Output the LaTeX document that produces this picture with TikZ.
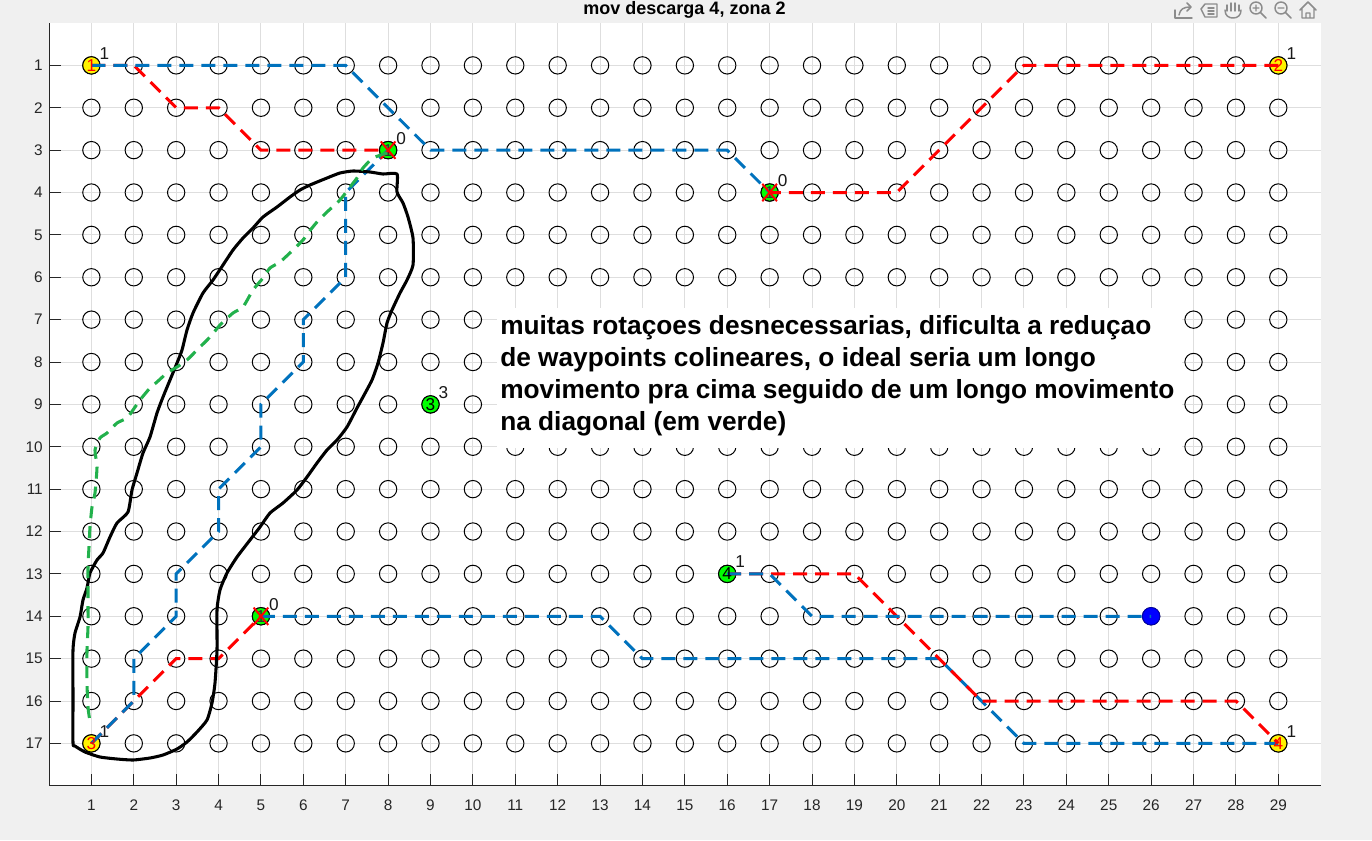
\documentclass[tikz,border=0pt]{standalone}
\usepackage{fontspec}
\setmainfont{Liberation Sans}
\begin{document}
\begin{tikzpicture}[x=0.75pt,y=-0.75pt,
  gridc/.style={draw=black!13,line width=0.75pt},
  axisc/.style={draw=black!85,line width=0.75pt},
  ticklab/.style={text=black!85,font=\fontsize{11.5}{13}\selectfont,inner sep=0pt},
  emptym/.style={draw=black,line width=0.75pt},
  mk/.style={circle,draw=black,line width=0.75pt,minimum size=13pt,inner sep=0pt},
  ymark/.style={mk,fill=yellow},
  gmark/.style={mk,fill=green},
  bmark/.style={mk,fill=blue,draw=blue!70!black},
  bpath/.style={draw={rgb,255:red,0;green,114;blue,189},line width=2.25pt,dash pattern=on 10.5pt off 6pt},
  rpath/.style={draw=red,line width=2.25pt,dash pattern=on 10.5pt off 6pt},
  ptlab/.style={font=\fontsize{12.9}{14}\selectfont,inner sep=0pt,text=black!90},
  innum/.style={font=\fontsize{12.9}{14}\selectfont,inner sep=0pt},
  xmk/.style={draw=red,line width=1.5pt},
  handblack/.style={draw=black,line width=2.3pt,line join=round},
  handgreen/.style={draw={rgb,255:red,34;green,177;blue,76},line width=2.3pt,dash pattern=on 9pt off 6pt,line join=round},
  note/.style={font=\fontsize{19.7}{24}\selectfont\bfseries,inner sep=0pt,anchor=base west},
  icon/.style={draw=black!45,line width=1.1pt,line join=round,line cap=round}
]
\useasboundingbox (0,0) rectangle (1372,840);
\fill[black!6] (0,0) rectangle (1372,840);
\fill[white] (49,23) rectangle (1320.7,785);
\node[font=\fontsize{13.5}{15}\selectfont\bfseries,inner sep=0pt] (title) at (684.5,10) {mov descarga 4, zona 2};
% toolbar icons
\draw[icon] (1175,10) -- (1175,18) -- (1192,18);
\draw[icon] (1179,15) .. controls (1180,9) and (1184,7) .. (1190,7);
\draw[icon] (1187,3) -- (1191,7) -- (1187,11);
\draw[icon] (1201,9) -- (1205,4) -- (1217,4) -- (1217,17) -- (1205,17) -- cycle;
\draw[icon] (1208,8) -- (1214,8) (1208,11) -- (1214,11) (1208,14) -- (1214,14);
\draw[icon] (1227,11) -- (1227,5) (1231,11) -- (1231,3) (1235,11) -- (1235,3) (1239,11) -- (1239,5);
\draw[icon] (1225,10) .. controls (1225,16) and (1229,18) .. (1233,18) .. controls (1238,18) and (1241,15) .. (1241,10);
\draw[icon] (1256,8) circle[radius=6];
\draw[icon] (1260.5,12.5) -- (1266,18) (1253,8) -- (1259,8) (1256,5) -- (1256,11);
\draw[icon] (1281,8) circle[radius=6];
\draw[icon] (1285.5,12.5) -- (1291,18) (1278,8) -- (1284,8);
\draw[icon] (1300,10) -- (1308,2) -- (1316,10) (1302,8) -- (1302,18) -- (1314,18) -- (1314,8) (1306,18) -- (1306,13) -- (1310,13) -- (1310,18);
\begin{scope}[shift={(49,23)}]
\begin{scope}[x=31.7925pt,y=-31.78125pt]
  % grid
  \foreach \i in {1,...,29} \draw[gridc] (\i,0) -- (\i,18);
  \foreach \j in {1,...,17} \draw[gridc] (0,\j) -- (30,\j);
  % axes
  \draw[axisc] (0,0) -- (0,18) -- (30,18);
  \foreach \i in {1,...,29} {
    \draw[axisc] (\i,18) -- ++(0,9pt);
    \node[ticklab] (xl\i) at ([yshift=-14.6pt]\i,18) {\i};
  }
  \foreach \j in {1,...,17} {
    \draw[axisc] (0,\j) -- ++(9pt,0);
    \node[ticklab,anchor=east] (yl\j) at ([xshift=-4.5pt]0,\j) {\j};
  }
  % empty markers
  \foreach \i in {1,...,29} \foreach \j in {1,...,17}
    \draw[emptym] (\i,\j) circle[radius=6.5pt];
  % coloured markers
  \node[ymark] (p1) at (1,1) {};
  \node[ymark] (p2) at (29,1) {};
  \node[ymark] (p3) at (1,17) {};
  \node[ymark] (p4) at (29,17) {};
  \node[gmark] (g1) at (8,3) {};
  \node[gmark] (g2) at (17,4) {};
  \node[gmark] (g3) at (5,14) {};
  \node[gmark] (g4) at (16,13) {};
  \node[gmark] (g5) at (9,9) {};
  \node[bmark] (b1) at (26,14) {};
  % paths
  \draw[rpath] (p1.center) -- (2,1) -- (3,2) -- (4,2) -- (5,3) -- (g1.center);
  \draw[bpath] (p1.center) -- (7,1) -- (9,3) -- (16,3) -- (g2.center);
  \draw[rpath] (p2.center) -- (23,1) -- (20,4) -- (g2.center);
  \draw[rpath] (p3.center) -- (2,16) -- (3,15) -- (4,15) -- (g3.center);
  \draw[bpath] (p3.center) -- (2,16) -- (2,15) -- (3,14) -- (3,13) -- (4,12) -- (4,11) -- (5,10) -- (5,9) -- (6,8) -- (6,7) -- (7,6) -- (7,4) -- (g1.center);
  \draw[bpath] (g3.center) -- (13,14) -- (14,15) -- (21,15) -- (23,17) -- (p4.center);
  \draw[rpath] (g4.center) -- (19,13) -- (22,16) -- (28,16) -- (p4.center);
  \draw[bpath] (g4.center) -- (17,13) -- (18,14) -- (b1.center);
  % numbers inside markers
  \node[innum,text=red] (n1) at (p1) {1};
  \node[innum,text=red] (n2) at (p2) {2};
  \node[innum,text=red] (n3) at (p3) {3};
  \node[innum,text=red] (n4) at (p4) {4};
  \node[innum,text=black] (n5) at (g5) {3};
  \node[innum,text=black] (n6) at (g4) {4};
  \node[innum,text=black!80] (n7) at (g1) {1};
  \node[innum,text=black!80] (n8) at (g2) {1};
  \node[innum,text=black!80] (n9) at (g3) {1};
  % red crosses
  \foreach \g in {g1,g2,g3} {
    \draw[xmk] ([shift={(-5.5pt,-6.5pt)}]\g.center) -- ([shift={(5.5pt,6.5pt)}]\g.center);
    \draw[xmk] ([shift={(-5.5pt,6.5pt)}]\g.center) -- ([shift={(5.5pt,-6.5pt)}]\g.center);
  }
  % point labels
  \node[ptlab] (l1) at ([shift={(9.75pt,9pt)}]p1.center) {1};
  \node[ptlab] (l2) at ([shift={(9.75pt,9pt)}]p2.center) {1};
  \node[ptlab] (l3) at ([shift={(9.75pt,9pt)}]p3.center) {1};
  \node[ptlab] (l4) at ([shift={(9.75pt,9pt)}]p4.center) {1};
  \node[ptlab] (l5) at ([shift={(9.75pt,9pt)}]g1.center) {0};
  \node[ptlab] (l6) at ([shift={(9.75pt,9pt)}]g2.center) {0};
  \node[ptlab] (l7) at ([shift={(9.75pt,9pt)}]g3.center) {0};
  \node[ptlab] (l8) at ([shift={(9.75pt,9pt)}]g5.center) {3};
  \node[ptlab] (l9) at ([shift={(9.75pt,9pt)}]g4.center) {1};
\end{scope}
\end{scope}
% hand drawn outline
\draw[handblack] plot[smooth cycle,tension=0.35] coordinates {
 (397,174) (397,192) (403,203) (408,217) (413,238) (413,265) (407,280) (400,293)
 (392,310) (387,323) (383,343) (378,363) (372,380) (363,397) (357,408) (347,427)
 (337,440) (327,450) (317,463) (307,477) (297,490) (283,503) (270,513) (260,527)
 (250,540) (237,557) (227,573) (220,590) (217,610) (217,650) (215,683) (212,703)
 (207,720) (197,732) (187,742) (177,749) (163,755) (150,758) (133,760) (117,759)
 (100,757) (85,752) (75,746) (73,743) (73,700) (73,650) (75,633) (80,617)
 (83,600) (87,588) (90,573) (97,560) (103,553) (110,537) (117,523) (128,512)
 (132,490) (137,473) (143,453) (150,437) (157,413) (163,397) (170,380) (177,363)
 (182,350) (187,330) (193,313) (203,293) (213,280) (223,265) (233,250) (243,238)
 (253,228) (263,217) (277,207) (290,197) (300,190) (310,185) (327,178) (340,173)
 (353,171) (370,172) (383,174)};
% hand drawn green dashed curve
\draw[handgreen] plot[smooth,tension=0.35] coordinates {
 (387,153) (373,158) (363,168) (357,178) (350,187) (340,200) (327,212) (317,222)
 (308,233) (303,240) (293,250) (280,262) (270,268) (263,278) (253,290) (243,307)
 (233,313) (220,325) (210,337) (197,350) (187,360) (177,367) (167,373) (157,382)
 (150,388) (140,400) (133,410) (127,418) (117,423) (107,433) (100,438) (95,450)
 (97,467) (95,493) (92,507) (90,527) (89,547) (88,567) (88,600) (88,627)
 (87,650) (87,683) (88,707) (90,722)};
% note on a white patch
\fill[white] (497,308) rectangle (1182,448);
\node[note] (t1) at (500,334) {muitas rotaçoes desnecessarias, dificulta a reduçao};
\node[note] (t2) at (500,366) {de waypoints colineares, o ideal seria um longo};
\node[note] (t3) at (500,398) {movimento pra cima seguido de um longo movimento};
\node[note] (t4) at (500,430) {na diagonal (em verde)};
\end{tikzpicture}
\end{document}
